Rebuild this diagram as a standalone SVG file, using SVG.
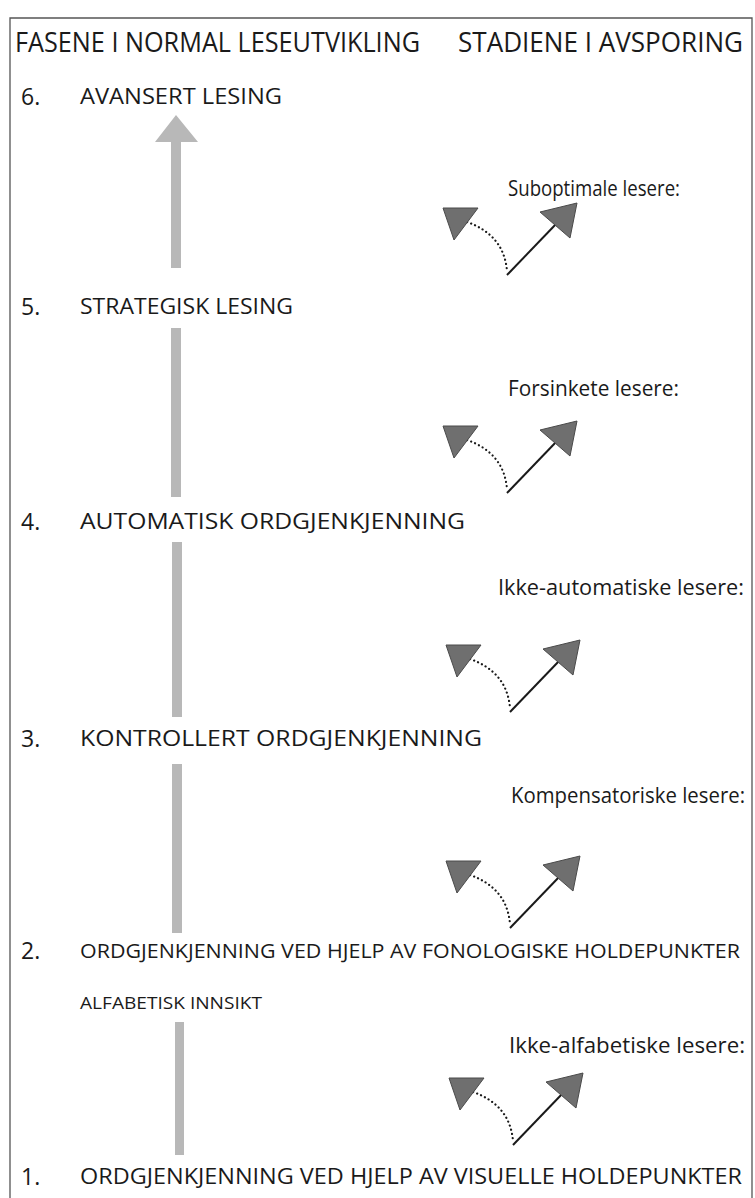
<svg xmlns="http://www.w3.org/2000/svg" width="755" height="1198" viewBox="0 0 755 1198">
<style>
text{font-family:"Open Sans","Noto Sans",sans-serif;fill:#1a1a1a}
.h{font-size:27px}
.n{font-size:22px}
.nl{font-size:20.5px}
.num{font-size:23px}
.s{font-size:21px}
.sm{font-size:16px}
.bar{fill:#b8b8b8}
.tri{fill:#6f6f6f;stroke:#4a4a4a;stroke-width:1;stroke-linejoin:round}
.ln{stroke:#1a1a1a;stroke-width:2;fill:none}
.dot{stroke:#1a1a1a;stroke-width:2.2;fill:none;stroke-dasharray:0.1 4.2;stroke-linecap:round}
</style>
<defs>
<g id="pair">
<path class="dot" d="M-40,-53 Q-3,-40 0,-4"/>
<line class="ln" x1="0" y1="0" x2="50" y2="-52"/>
<polygon class="tri" points="-64,-67 -29,-67 -53,-35"/>
<polygon class="tri" points="33,-63 70,-72 63,-37"/>
</g>
</defs>
<rect x="0" y="0" width="755" height="1198" fill="#ffffff"/>
<path d="M10,1198 V18 H752 V1198" fill="none" stroke="#555" stroke-width="1.3"/>
<g id="headers">
<text class="h" x="15" y="52" textLength="405" lengthAdjust="spacingAndGlyphs">FASENE I NORMAL LESEUTVIKLING</text>
<text class="h" x="458" y="52" textLength="285" lengthAdjust="spacingAndGlyphs">STADIENE I AVSPORING</text>
</g>
<g id="stage6"><text class="num" x="21" y="105">6.</text><text class="n" x="80" y="104" textLength="202" lengthAdjust="spacingAndGlyphs">AVANSERT LESING</text></g>
<g id="stage5"><text class="num" x="21" y="315">5.</text><text class="n" x="80" y="314" textLength="213" lengthAdjust="spacingAndGlyphs">STRATEGISK LESING</text></g>
<g id="stage4"><text class="num" x="21" y="530">4.</text><text class="n" x="80" y="529" textLength="385" lengthAdjust="spacingAndGlyphs">AUTOMATISK ORDGJENKJENNING</text></g>
<g id="stage3"><text class="num" x="21" y="747">3.</text><text class="n" x="80" y="746" textLength="402" lengthAdjust="spacingAndGlyphs">KONTROLLERT ORDGJENKJENNING</text></g>
<g id="stage2"><text class="num" x="21" y="959">2.</text><text class="nl" x="80" y="958" textLength="660" lengthAdjust="spacingAndGlyphs">ORDGJENKJENNING VED HJELP AV FONOLOGISKE HOLDEPUNKTER</text></g>
<g id="insight"><text class="sm" x="80" y="1009" textLength="182" lengthAdjust="spacingAndGlyphs">ALFABETISK INNSIKT</text></g>
<g id="stage1"><text class="num" x="21" y="1185">1.</text><text class="n" x="80" y="1184" textLength="662" lengthAdjust="spacingAndGlyphs">ORDGJENKJENNING VED HJELP AV VISUELLE HOLDEPUNKTER</text></g>
<g id="dev1"><text class="s" x="508" y="196" textLength="172" lengthAdjust="spacingAndGlyphs">Suboptimale lesere:</text></g>
<g id="dev2"><text class="s" x="508" y="396" textLength="171" lengthAdjust="spacingAndGlyphs">Forsinkete lesere:</text></g>
<g id="dev3"><text class="s" x="498" y="595" textLength="246" lengthAdjust="spacingAndGlyphs">Ikke-automatiske lesere:</text></g>
<g id="dev4"><text class="s" x="511" y="803" textLength="234" lengthAdjust="spacingAndGlyphs">Kompensatoriske lesere:</text></g>
<g id="dev5"><text class="s" x="509" y="1053" textLength="236" lengthAdjust="spacingAndGlyphs">Ikke-alfabetiske lesere:</text></g>
<g id="connectors">
<polygon class="bar" points="176,115 198,142 181,142 181,268 171,268 171,142 155,142"/>
<rect class="bar" x="171" y="328" width="10" height="169"/>
<rect class="bar" x="172" y="542" width="10" height="175"/>
<rect class="bar" x="172" y="764" width="10" height="169"/>
<rect class="bar" x="175" y="1022" width="9" height="133"/>
<use href="#pair" x="507" y="275"/>
<use href="#pair" x="507" y="493"/>
<use href="#pair" x="510" y="712"/>
<use href="#pair" x="510" y="928"/>
<use href="#pair" x="513" y="1145"/>
</g>
</svg>
